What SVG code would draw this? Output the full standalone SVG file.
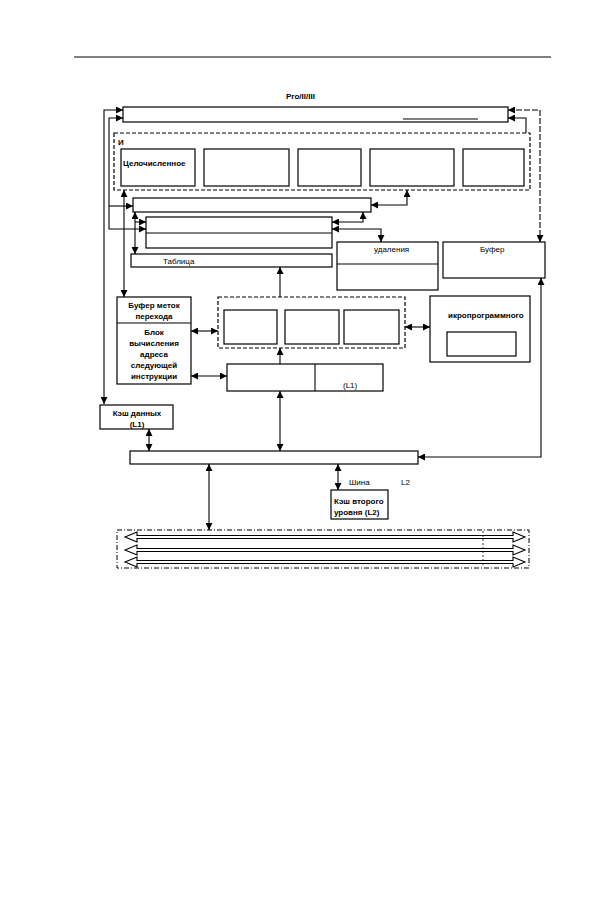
<svg xmlns="http://www.w3.org/2000/svg" width="605" height="915" viewBox="0 0 605 915">
<style>
.b{fill:#fff;stroke:#000;stroke-width:1.2}
.d{fill:none;stroke:#000;stroke-width:1.2;stroke-dasharray:4 2}
.dd{fill:none;stroke:#000;stroke-width:1;stroke-dasharray:5 2 1 2}
.l{fill:none;stroke:#000;stroke-width:1.1}
.c{fill:none;stroke:#000;stroke-width:1.1;marker-end:url(#a)}
.c2{fill:none;stroke:#000;stroke-width:1.1;marker-start:url(#a);marker-end:url(#a)}
.ba{fill:#fff;stroke:#000;stroke-width:1.1}
text{font-family:"Liberation Sans",Arial,sans-serif;font-size:8px;font-weight:bold;fill:#000}
.r{font-weight:normal}
.m{text-anchor:middle}
</style>
<defs>
<marker id="a" viewBox="0 0 10 10" refX="10" refY="5" markerUnits="userSpaceOnUse" markerWidth="8" markerHeight="7" orient="auto-start-reverse"><path d="M0,0 L10,5 L0,10 z" fill="#000"/></marker>
</defs>
<path class="l" d="M74,57 H551" stroke-width="1.6"/>
<text x="286" y="99">Pro/II/III</text>

<g id="top-bar"><rect class="b" x="123" y="107" width="385" height="15"/><path class="l" d="M403,119 H478"/></g>

<g id="exec-units">
<rect class="d" x="114" y="133" width="416" height="57"/>
<text x="118" y="145">И</text>
<g id="int-unit"><rect class="b" x="121" y="149" width="74" height="37"/><text x="123" y="166">Целочисленное</text></g>
<g id="unit2"><rect class="b" x="204" y="149" width="85" height="37"/></g>
<g id="unit3"><rect class="b" x="298" y="149" width="63" height="37"/></g>
<g id="unit4"><rect class="b" x="370" y="149" width="84" height="37"/></g>
<g id="unit5"><rect class="b" x="463" y="149" width="61" height="37"/></g>
</g>

<g id="bar2"><rect class="b" x="133" y="198" width="238" height="14"/></g>
<g id="bar3"><rect class="b" x="146" y="217" width="186" height="31"/><path class="l" d="M146,233 H332"/></g>
<g id="table"><rect class="b" x="131" y="254" width="201" height="13"/><text class="r" x="163" y="264">Таблица</text></g>
<g id="retire"><rect class="b" x="337" y="242" width="101" height="48"/><path class="l" d="M337,264 H438"/><text class="r" x="374" y="252">удаления</text></g>
<g id="buffer"><rect class="b" x="443" y="242" width="102" height="36"/><text class="r" x="480" y="252">Буфер</text></g>

<g id="decoders">
<rect class="d" x="218" y="297" width="187" height="51"/>
<rect class="b" x="224" y="310" width="53" height="34"/>
<rect class="b" x="285" y="310" width="54" height="34"/>
<rect class="b" x="344" y="310" width="55" height="34"/>
</g>
<g id="microcode"><rect class="b" x="430" y="296" width="100" height="66"/><text x="448" y="318">икропрограммного</text><rect class="b" x="447" y="332" width="69" height="24"/></g>
<g id="fetch"><rect class="b" x="227" y="364" width="156" height="27"/><path class="l" d="M315,364 V391"/><text class="r" x="343" y="388">(L1)</text></g>
<g id="btb"><rect class="b" x="117" y="297" width="74" height="87"/><path class="l" d="M117,323 H191"/>
<text class="m" x="154" y="308">Буфер меток</text><text class="m" x="154" y="319">перехода</text>
<text class="m" x="154" y="335">Блок</text><text class="m" x="154" y="346">вычисления</text><text class="m" x="154" y="357">адреса</text><text class="m" x="154" y="368">следующей</text><text class="m" x="154" y="379">инструкции</text></g>
<g id="dcache"><rect class="b" x="100" y="405" width="73" height="24"/><text class="m" x="137" y="416">Кэш данных</text><text class="m" x="137" y="427">(L1)</text></g>
<g id="bus"><rect class="b" x="130" y="451" width="288" height="13"/></g>
<text class="r" x="349" y="485">Шина</text><text class="r" x="401" y="485">L2</text>
<g id="l2"><rect class="b" x="331" y="490" width="57" height="29"/><text x="334" y="504">Кэш второго</text><text x="334" y="515">уровня (L2)</text></g>

<g id="sysbus">
<rect class="dd" x="117" y="530" width="412" height="38"/>
<path class="ba" d="M125,537 L137,532 L137,535.5 L513,535.5 L513,532 L525,537 L513,542 L513,538.5 L137,538.5 L137,542 Z"/>
<path class="ba" d="M125,550 L137,545 L137,548.5 L513,548.5 L513,545 L525,550 L513,555 L513,551.5 L137,551.5 L137,555 Z"/>
<path class="ba" d="M125,562 L137,557 L137,560.5 L513,560.5 L513,557 L525,562 L513,567 L513,563.5 L137,563.5 L137,567 Z"/>
<path d="M483,531 V567" fill="none" stroke="#000" stroke-width="0.8" stroke-dasharray="2 2"/>
</g>

<g id="connectors">
<path class="c2" d="M123,110 H104 V404"/>
<path class="c2" d="M123,118 H109 V229 H146"/>
<path class="c" d="M109,206 H133"/>
<path class="c2" d="M124,190 V297"/>
<path class="c2" d="M135,212 V254"/>
<path class="c" d="M135,222 H146"/>
<path class="c2" d="M508,110 H540 V242" stroke-dasharray="6 2"/>
<path class="l" d="M526,133 V118 H508" marker-end="url(#a)"/>
<path class="c2" d="M407,190 V205 H371"/>
<path class="c2" d="M363,212 V222 H332"/>
<path class="c2" d="M332,229 H381 V242"/>
<path class="c" d="M280,297 V267"/>
<path class="c2" d="M191,331 H218"/>
<path class="c2" d="M405,327 H430"/>
<path class="c" d="M280,364 V348"/>
<path class="c2" d="M191,376 H227"/>
<path class="c2" d="M280,391 V451"/>
<path class="c2" d="M149,429 V451"/>
<path class="c2" d="M209,464 V530"/>
<path class="c2" d="M338,464 V490"/>
<path class="c2" d="M541,278 V457 H418"/>
</g>
</svg>
